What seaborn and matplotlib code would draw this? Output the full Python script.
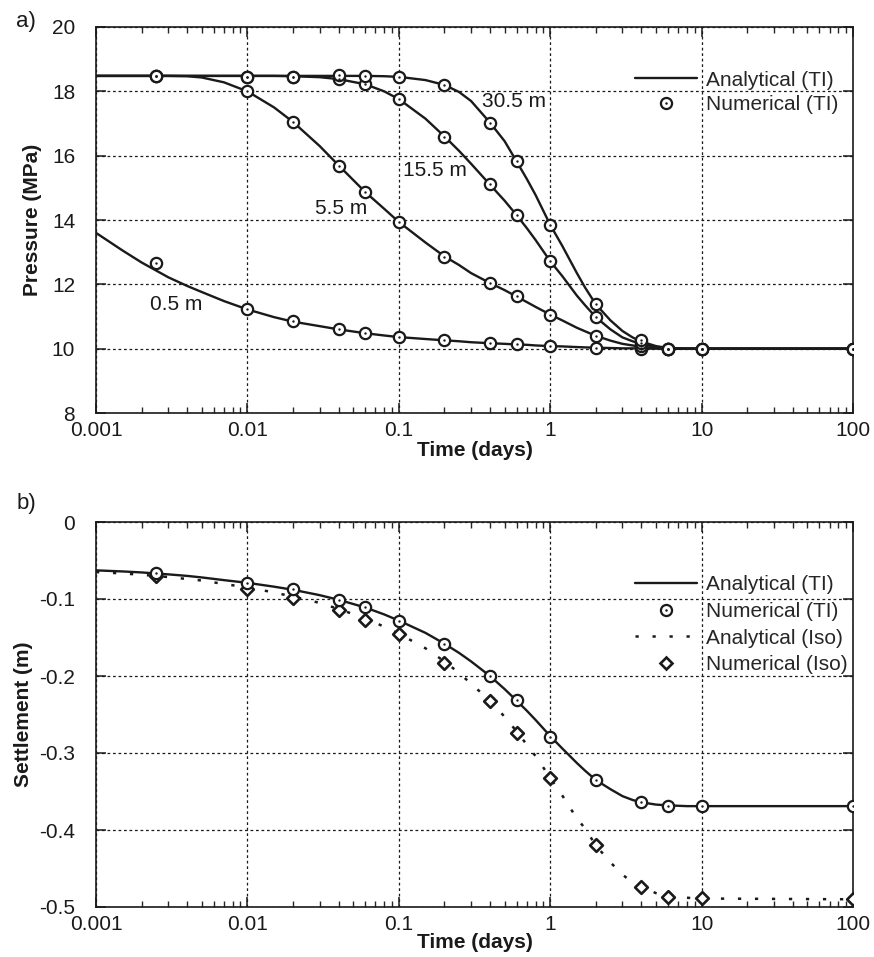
import numpy as np
import pandas as pd
import matplotlib
matplotlib.use("Agg")
import matplotlib.pyplot as plt
import seaborn as sns
from matplotlib.lines import Line2D
from matplotlib.ticker import FixedLocator, FixedFormatter, LogLocator, NullFormatter

sns.set_theme(style="white")
plt.rcParams['font.family'] = ['Liberation Sans', 'DejaVu Sans']
plt.rcParams['axes.unicode_minus'] = False

# ---------------- data ----------------
t_num = [0.0025, 0.01, 0.02, 0.04, 0.06, 0.1, 0.2, 0.4, 0.6, 1, 2, 4, 6, 10, 100]
t_ana = [0.001, 0.0015, 0.002, 0.003, 0.004, 0.005, 0.007,
         0.01, 0.015, 0.02, 0.03, 0.04, 0.06, 0.08, 0.1,
         0.15, 0.2, 0.25, 0.3, 0.4, 0.5, 0.6, 0.7, 0.8, 1,
         1.2, 1.5, 1.7, 2, 2.5, 3, 3.5, 4,
         5, 6, 8, 10, 100]

# pressure (MPa), analytical (TI)
p_ana_05 = [13.6, 13.05, 12.68, 12.22, 11.95, 11.76, 11.48,
            11.22, 10.98, 10.84, 10.7, 10.6, 10.48, 10.41, 10.36,
            10.3, 10.26, 10.23, 10.2, 10.17, 10.15, 10.13, 10.12, 10.1, 10.08,
            10.07, 10.05, 10.04, 10.03, 10.02, 10.01, 10.01, 10.0,
            10.0, 10.0, 10.0, 10.0, 10.0]
p_ana_55 = [18.48, 18.48, 18.48, 18.48, 18.47, 18.43, 18.28,
            18.0, 17.5, 17.05, 16.3, 15.7, 14.87, 14.35, 13.94,
            13.3, 12.87, 12.6, 12.35, 12.04, 11.82, 11.62, 11.45, 11.3, 11.06,
            10.88, 10.65, 10.54, 10.4, 10.25, 10.15, 10.1, 10.06,
            10.02, 10.0, 10.0, 10.0, 10.0]
p_ana_155 = [18.48, 18.48, 18.48, 18.48, 18.48, 18.48, 18.48,
             18.48, 18.48, 18.47, 18.44, 18.38, 18.22, 18.0, 17.76,
             17.15, 16.6, 16.15, 15.75, 15.1, 14.6, 14.15, 13.75, 13.38, 12.72,
             12.26, 11.65, 11.35, 10.98, 10.6, 10.35, 10.23, 10.15,
             10.05, 10.01, 10.0, 10.0, 10.0]
p_ana_305 = [18.48, 18.48, 18.48, 18.48, 18.48, 18.48, 18.48,
             18.48, 18.48, 18.48, 18.48, 18.48, 18.48, 18.47, 18.45,
             18.35, 18.2, 17.98, 17.7, 17.03, 16.45, 15.82, 15.28, 14.78, 13.85,
             13.2, 12.35, 11.9, 11.38, 10.88, 10.55, 10.35, 10.22,
             10.08, 10.02, 10.0, 10.0, 10.0]

# pressure (MPa), numerical (TI)
p_num_05 = [12.65, 11.22, 10.86, 10.6, 10.5, 10.37, 10.28, 10.18, 10.16, 10.09, 10.02, 10.0, 10.0, 10.0, 10.0]
p_num_55 = [18.48, 18.0, 17.05, 15.68, 14.87, 13.94, 12.86, 12.05, 11.64, 11.06, 10.38, 10.07, 10.0, 10.0, 10.0]
p_num_155 = [18.48, 18.45, 18.45, 18.38, 18.24, 17.76, 16.58, 15.11, 14.15, 12.72, 10.98, 10.18, 10.0, 10.0, 10.0]
p_num_305 = [18.48, 18.45, 18.46, 18.5, 18.47, 18.45, 18.2, 17.03, 15.82, 13.85, 11.38, 10.26, 10.0, 10.0, 10.0]

depth_labels = ["0.5 m", "5.5 m", "15.5 m", "30.5 m"]

# settlement (m)
s_ana_ti = [-0.0628, -0.0642, -0.0655, -0.068, -0.070, -0.072, -0.0755,
            -0.079, -0.084, -0.088, -0.095, -0.101, -0.111, -0.12, -0.128,
            -0.144, -0.158, -0.17, -0.181, -0.2, -0.217, -0.232, -0.245, -0.257, -0.278,
            -0.294, -0.313, -0.323, -0.335, -0.347, -0.356, -0.361, -0.364,
            -0.367, -0.368, -0.369, -0.369, -0.369]
s_ana_iso = [-0.065, -0.0668, -0.0685, -0.0715, -0.074, -0.076, -0.0805,
             -0.085, -0.0915, -0.097, -0.105, -0.113, -0.125, -0.136, -0.145,
             -0.164, -0.181, -0.196, -0.21, -0.232, -0.253, -0.272, -0.289, -0.304, -0.332,
             -0.355, -0.385, -0.398, -0.42, -0.442, -0.458, -0.468, -0.474,
             -0.482, -0.486, -0.488, -0.489, -0.49]
s_num_ti = [-0.0658, -0.079, -0.0874, -0.101, -0.111, -0.128, -0.158, -0.2, -0.2316,
            -0.279, -0.3355, -0.3636, -0.369, -0.369, -0.369]
s_num_iso = [-0.0706, -0.0866, -0.0987, -0.1147, -0.1268, -0.146, -0.1827, -0.2325,
             -0.2736, -0.3325, -0.42, -0.474, -0.487, -0.488, -0.489]

x_ticks = [0.001, 0.01, 0.1, 1, 10, 100]
x_ticklabels = ["0.001", "0.01", "0.1", "1", "10", "100"]
p_ticks = [8, 10, 12, 14, 16, 18, 20]
p_ticklabels = ["8", "10", "12", "14", "16", "18", "20"]
s_ticks = [-0.5, -0.4, -0.3, -0.2, -0.1, 0]
s_ticklabels = ["-0.5", "-0.4", "-0.3", "-0.2", "-0.1", "0"]

# ---------------- figure ----------------
FS = 15
fig = plt.figure(figsize=(8.74, 9.57), dpi=100)
ax1 = fig.add_axes([96/874, 1-413/957, 757/874, 386/957])
ax2 = fig.add_axes([96/874, 1-907/957, 757/874, 385/957])

grid_style = dict(color='k', linestyle=(0, (2.2, 2.2)), linewidth=0.9)
circ_kw = dict(marker='o', s=66, facecolor='white', edgecolor='k', linewidth=1.6, zorder=5)
dot_kw = dict(marker='o', s=3, color='k', linewidth=0, zorder=6)
ISO_LS = (0, (1.3, 5.5))


def style_axis(ax, yt, ytl, ylim):
    ax.set_xscale('log')
    ax.set_xlim(0.001, 100)
    ax.set_ylim(*ylim)
    ax.xaxis.set_major_locator(FixedLocator(x_ticks))
    ax.xaxis.set_major_formatter(FixedFormatter(x_ticklabels))
    ax.xaxis.set_minor_locator(LogLocator(base=10, subs=np.arange(2, 10)))
    ax.xaxis.set_minor_formatter(NullFormatter())
    ax.yaxis.set_major_locator(FixedLocator(yt))
    ax.yaxis.set_major_formatter(FixedFormatter(ytl))
    ax.tick_params(axis='x', which='major', direction='in', top=True, bottom=True,
                   length=7, width=1.1, pad=6, labelsize=FS, colors='k')
    ax.tick_params(axis='x', which='minor', direction='in', top=True, bottom=True,
                   length=4, width=1.0)
    ax.tick_params(axis='y', which='major', direction='in', left=True, right=True,
                   length=7, width=1.1, pad=15, labelsize=FS, colors='k')
    for sp in ax.spines.values():
        sp.set_color('k')
        sp.set_linewidth(1.2)
        sp.set_visible(True)
    ax.grid(True, which='major', **grid_style)
    ax.set_axisbelow(True)
    ax.set_facecolor('white')


# ---- panel a ----
for pa in [p_ana_05, p_ana_55, p_ana_155, p_ana_305]:
    sns.lineplot(x=t_ana, y=pa, ax=ax1, color='k', linewidth=1.7, estimator=None,
                 sort=False, legend=False, zorder=3)
for pn in [p_num_05, p_num_55, p_num_155, p_num_305]:
    sns.scatterplot(x=t_num, y=pn, ax=ax1, legend=False, **circ_kw)
    sns.scatterplot(x=t_num, y=pn, ax=ax1, legend=False, **dot_kw)

style_axis(ax1, p_ticks, p_ticklabels, (8, 20))
label_pos = [(0.00228, 11.36), (0.028, 14.37), (0.107, 15.55), (0.355, 17.67)]
for lab, (lx, ly) in zip(depth_labels, label_pos):
    ax1.text(lx, ly, lab, fontsize=FS, ha='left', va='center', color='k', zorder=7)

ax1.set_xlabel("Time (days)", fontsize=FS, fontweight='bold', color='k')
ax1.set_ylabel("Pressure (MPa)", fontsize=FS, fontweight='bold', color='k')
ax1.xaxis.set_label_coords(0.5, -0.072)
ax1.xaxis.label.set_va('top')
ax1.yaxis.set_label_coords(-0.0713, 0.5)

h_ana = Line2D([], [], color='k', lw=1.7)
h_num = (Line2D([], [], marker='o', ms=8, mfc='white', mec='k', mew=1.6, ls='none'),
         Line2D([], [], marker='o', ms=1.8, color='k', mew=0, ls='none'))
ax1.legend([h_ana, h_num], ["Analytical (TI)", "Numerical (TI)"],
           loc='upper left', bbox_to_anchor=(0.712, 0.887), frameon=False,
           borderpad=0, borderaxespad=0, handlelength=3.0, handletextpad=0.4,
           labelspacing=0.27, fontsize=FS)

# ---- panel b ----
sns.lineplot(x=t_ana, y=s_ana_ti, ax=ax2, color='k', linewidth=1.7, estimator=None,
             sort=False, legend=False, zorder=3)
sns.lineplot(x=t_ana, y=s_ana_iso, ax=ax2, color='k', linewidth=1.8, estimator=None,
             sort=False, legend=False, zorder=3, linestyle=ISO_LS)
sns.scatterplot(x=t_num, y=s_num_iso, ax=ax2, legend=False, marker='D', s=42,
                facecolor='white', edgecolor='k', linewidth=1.9, zorder=5)
sns.scatterplot(x=t_num, y=s_num_ti, ax=ax2, legend=False, **circ_kw)
sns.scatterplot(x=t_num, y=s_num_ti, ax=ax2, legend=False, **dot_kw)

style_axis(ax2, s_ticks, s_ticklabels, (-0.5, 0))
ax2.set_xlabel("Time (days)", fontsize=FS, fontweight='bold', color='k')
ax2.set_ylabel("Settlement (m)", fontsize=FS, fontweight='bold', color='k')
ax2.xaxis.set_label_coords(0.5, -0.068)
ax2.xaxis.label.set_va('top')
ax2.yaxis.set_label_coords(-0.083, 0.5)

h_iso = Line2D([], [], color='k', lw=1.8, linestyle=ISO_LS)
h_niso = Line2D([], [], marker='D', ms=6.5, mfc='white', mec='k', mew=1.9, ls='none')
ax2.legend([h_ana, h_num, h_iso, h_niso],
           ["Analytical (TI)", "Numerical (TI)", "Analytical (Iso)", "Numerical (Iso)"],
           loc='upper left', bbox_to_anchor=(0.712, 0.862), frameon=False,
           borderpad=0, borderaxespad=0, handlelength=3.0, handletextpad=0.4,
           labelspacing=0.37, fontsize=FS)

fig.text(26/874, 1-22/957, "a)", fontsize=FS+1, ha='center', va='center', color='k')
fig.text(26/874, 1-503/957, "b)", fontsize=FS+1, ha='center', va='center', color='k')

fig.savefig("out.png", dpi=100, facecolor='white')
